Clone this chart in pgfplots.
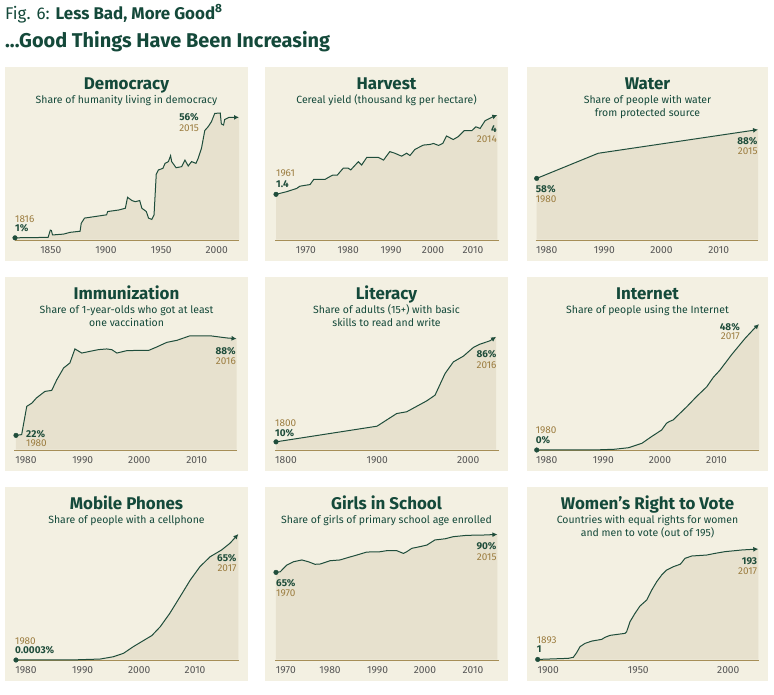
\documentclass[border=0pt]{standalone}
\usepackage{fontspec}
\setmainfont{Fira Sans}
\usepackage{pgfplots}
\usepackage{pgfplotstable}
\pgfplotsset{compat=1.18}
\usetikzlibrary{arrows.meta}

\definecolor{bgc}{HTML}{F3F0E2}
\definecolor{fillc}{HTML}{E7E1CE}
\definecolor{linec}{HTML}{1F4D3B}
\definecolor{goldc}{HTML}{9C7D40}
\definecolor{basec}{HTML}{A68E57}
\definecolor{titlec}{HTML}{14493A}
\definecolor{tickc}{HTML}{555555}

\newcommand{\anno}{\fontsize{10}{12}\selectfont}
\newcommand{\ttlfont}{\fontsize{17}{20}\selectfont\bfseries}
\newcommand{\subfont}{\fontsize{10.5}{13}\selectfont}

\pgfplotsset{
  panel/.style={
    scale only axis, anchor=south west, clip=false,
    axis y line=none, axis x line*=bottom,
    x axis line style={draw=basec, line width=1bp},
    ytick=\empty, major tick length=0pt,
    xticklabel style={font=\fontsize{10.3}{11}\selectfont, text=tickc, anchor=base, yshift=-13.3bp, inner sep=0pt},
  },
  area/.style={fill=fillc, draw=none},
  curve/.style={color=linec, line width=1bp, -{Latex[length=5bp,width=5bp]}},
  dot/.style={only marks, mark=*, mark size=2.3bp, color=linec, mark options={fill=linec, draw=linec}},
}
% close an area plot down to the baseline (just above the axis line)
\newcommand{\base}[3]{-- ([yshift=0.5bp]axis cs:#2,#3) -- ([yshift=0.5bp]axis cs:#1,#3) -- cycle}

\pgfplotstableread{
x y
1816 1
1846 1.2
1848 4.5
1849 4.3
1850 2.3
1860 2.7
1866 3.5
1875 4
1876 7.6
1879 10
1887 10.6
1899 11.5
1900 13
1910 13.7
1916 14.5
1918 19.5
1922 18
1925 17.5
1929 18
1931 14.5
1935 13
1937 10
1940 9.4
1942 11.4
1944 30
1946 32
1950 32.7
1952 35
1955 35.8
1957 38.5
1958 35.8
1962 33
1967 33.5
1970 36.5
1973 33.8
1976 35.8
1980 35
1982 37.3
1985 41.9
1988 50
1991 51.7
1994 54
1997 57.8
2002 58
2003 53
2005 52.5
2006 55
2010 56
2019 56
}\demdata

\pgfplotstableread{
x y
1961 1.40
1963.5 1.48
1965.9 1.58
1966.7 1.65
1969.1 1.70
1970 1.86
1972.7 1.86
1973.5 1.92
1974.5 1.99
1975.6 1.99
1977 2.20
1978.2 2.20
1978.8 2.15
1980.6 2.40
1981.4 2.30
1982.6 2.53
1985.4 2.53
1986.6 2.45
1988.1 2.71
1989.3 2.66
1990.9 2.57
1992.1 2.66
1992.9 2.59
1994.1 2.78
1996.1 2.91
1997.7 2.93
1998.5 2.96
1999.7 2.90
2000.7 2.96
2001.6 3.19
2003.2 3.08
2004.4 3.17
2005.8 3.35
2007.6 3.35
2008.6 3.47
2009.6 3.42
2010.8 3.66
2012.7 3.78
2013.7 3.83
}\harvdata

\pgfplotstableread{
x y
1980 58.5
1990 74.2
2016 89
}\waterdata

\pgfplotstableread{
x y
1980 22
1981 22.5
1981.9 41.8
1982.8 44
1983.6 47.5
1985.1 52
1986.3 52.7
1987.2 60
1988.4 68
1989.5 71.4
1990.4 81
1991.6 78.2
1993.1 79.4
1994.5 80.5
1996 81
1996.9 80.5
1997.8 78.2
1999.5 79.8
2001.3 80
2003.4 80
2004.8 82.3
2006.6 85.5
2008.4 86.9
2010.7 90
2014.2 90
2017.2 88.5
2018.9 88
}\immdata

\pgfplotstableread{
x y
1800 10
1899 21.5
1918.3 30.8
1928.1 32.1
1947.7 40.1
1955.9 44.3
1965.7 60.2
1973.9 68.8
1983.7 73
1993.5 79.4
2000 81.8
2009.8 84.3
2015.7 87.2
}\litdata

\pgfplotstableread{
x y
1980 0
1990 0.05
1993 0.3
1995.3 0.9
1997.5 2.6
1999.1 5.2
2000.8 7.8
2001.6 10.4
2002 11
2002.7 11.7
2005 16.9
2006.6 20.8
2008.3 24.6
2009.4 28.3
2010.5 31.1
2012.4 37
2014.7 43.5
2016.1 47
2017 49
}\intdata

\pgfplotstableread{
x y
1980 0
1990 0.1
1994 0.5
1996.2 1.7
1997.9 3.5
1999.5 6.9
2002.6 12.7
2004 17.3
2005.6 24.3
2007.3 32.9
2009 41.6
2010.6 48.5
2012.3 53.7
2014.2 57.2
2015.6 60.7
2017 65.5
}\mobdata

\pgfplotstableread{
x y
1970 65
1970.9 65.4
1972.3 69.9
1973.7 72.1
1975.5 73.3
1976.9 72.1
1978.3 70.4
1979.4 70.6
1981.5 72.8
1983.6 73.3
1985.4 75
1987.2 76.6
1989.3 78.6
1992.1 78.8
1993.5 79.5
1995.7 79.5
1997.1 77.7
1997.8 78.8
1998.9 81.1
2000.6 82.2
2002.1 83.3
2003.8 86.7
2006 87.5
2007.7 88.9
2010.6 89.8
2014.1 90
2017.1 90.4
}\girldata

\pgfplotstableread{
x y
1893 1
1910.2 2.9
1913 4.7
1914.9 12.8
1916.8 23.3
1919.6 29
1923.4 33
1929 36
1930.8 39.5
1933.7 43
1942.1 46.5
1943 49.4
1944.9 66.9
1947.7 81.4
1950.5 94.2
1954.3 104.7
1957.1 122
1959.9 136.6
1962.7 148.3
1965.5 157
1969.3 162.8
1973 166.9
1973.9 169.8
1975.8 177.3
1979.6 181.4
1988 183.1
1992.7 186
1998.3 189
2007.7 191.9
2017 193.6
}\womdata

\begin{document}
\begin{tikzpicture}
\fill[white] (0,0) rectangle (774bp,-695bp);

% panel backgrounds
\foreach \xa/\xb in {5/248, 265/508, 527/768}{
  \foreach \ya in {67, 277, 487}{
    \fill[bgc] (\xa bp,-\ya bp) rectangle (\xb bp,-\ya bp-194bp);
  }
}

% header
\node[anchor=base west, inner sep=0, text=titlec, font=\fontsize{17}{20}\selectfont] at (5bp,-19bp) {Fig. 6: \textbf{Less Bad, More Good}\textsuperscript{\textbf{8}}};
\node[anchor=base west, inner sep=0, text=titlec, font=\fontsize{20}{22}\selectfont\bfseries] at (5bp,-47.5bp) {...Good Things Have Been Increasing};

% titles row 1
\node[anchor=base, inner sep=0, text=titlec, font=\ttlfont] at (126.5bp,-89.5bp) {Democracy};
\node[anchor=base, inner sep=0, text=titlec, font=\subfont] at (126.5bp,-103bp) {Share of humanity living in democracy};
\node[anchor=base, inner sep=0, text=titlec, font=\ttlfont] at (386.5bp,-89.5bp) {Harvest};
\node[anchor=base, inner sep=0, text=titlec, font=\subfont] at (386.5bp,-103bp) {Cereal yield (thousand kg per hectare)};
\node[anchor=base, inner sep=0, text=titlec, font=\ttlfont] at (647.5bp,-89.5bp) {Water};
\node[anchor=base, inner sep=0, text=titlec, font=\subfont] at (647.5bp,-103bp) {Share of people with water};
\node[anchor=base, inner sep=0, text=titlec, font=\subfont] at (647.5bp,-116bp) {from protected source};
% row 2
\node[anchor=base, inner sep=0, text=titlec, font=\ttlfont] at (126.5bp,-299.5bp) {Immunization};
\node[anchor=base, inner sep=0, text=titlec, font=\subfont] at (126.5bp,-313bp) {Share of 1-year-olds who got at least};
\node[anchor=base, inner sep=0, text=titlec, font=\subfont] at (126.5bp,-326bp) {one vaccination};
\node[anchor=base, inner sep=0, text=titlec, font=\ttlfont] at (386.5bp,-299.5bp) {Literacy};
\node[anchor=base, inner sep=0, text=titlec, font=\subfont] at (386.5bp,-313bp) {Share of adults (15+) with basic};
\node[anchor=base, inner sep=0, text=titlec, font=\subfont] at (386.5bp,-326bp) {skills to read and write};
\node[anchor=base, inner sep=0, text=titlec, font=\ttlfont] at (647.5bp,-299.5bp) {Internet};
\node[anchor=base, inner sep=0, text=titlec, font=\subfont] at (647.5bp,-313bp) {Share of people using the Internet};
% row 3
\node[anchor=base, inner sep=0, text=titlec, font=\ttlfont] at (126.5bp,-509.5bp) {Mobile Phones};
\node[anchor=base, inner sep=0, text=titlec, font=\subfont] at (126.5bp,-523bp) {Share of people with a cellphone};
\node[anchor=base, inner sep=0, text=titlec, font=\ttlfont] at (386.5bp,-509.5bp) {Girls in School};
\node[anchor=base, inner sep=0, text=titlec, font=\subfont] at (386.5bp,-523bp) {Share of girls of primary school age enrolled};
\node[anchor=base, inner sep=0, text=titlec, font=\ttlfont] at (647.5bp,-509.5bp) {Women’s Right to Vote};
\node[anchor=base, inner sep=0, text=titlec, font=\subfont] at (647.5bp,-523bp) {Countries with equal rights for women};
\node[anchor=base, inner sep=0, text=titlec, font=\subfont] at (647.5bp,-536bp) {and men to vote (out of 195)};

% 1 Democracy
\begin{axis}[panel, at={(15bp,-240bp)}, width=224bp, height=131.4bp,
  xmin=1816, xmax=2019, ymin=0, ymax=60,
  xtick={1848.4,1898.5,1948.6,1998.8}, xticklabels={1850,1900,1950,2000}]
\addplot[area] table {\demdata} \base{1816}{2019}{0};
\addplot[curve] table {\demdata};
\addplot[dot] coordinates {(1816,1)};
\end{axis}

% 2 Harvest
\begin{axis}[panel, at={(275bp,-240bp)}, width=224bp, height=137bp,
  xmin=1960.76, xmax=2014.1, ymin=0, ymax=4.2,
  xtick={1968.1,1978.2,1988.4,1998.4,2007.9}, xticklabels={1970,1980,1990,2000,2010}]
\addplot[area] table {\harvdata} \base{1961}{2013.7}{0};
\addplot[curve] table {\harvdata};
\addplot[dot] coordinates {(1961,1.4)};
\end{axis}

% 3 Water
\begin{axis}[panel, at={(535.7bp,-240bp)}, width=222.6bp, height=128bp,
  xmin=1979.84, xmax=2016.04, ymin=20, ymax=100,
  xtick={1981.63,1991.0,2000.3,2009.6}, xticklabels={1980,1990,2000,2010}]
\addplot[area] table {\waterdata} \base{1980}{2016}{20};
\addplot[curve] table {\waterdata};
\addplot[dot] coordinates {(1980,58.5)};
\end{axis}

% 4 Immunization
\begin{axis}[panel, at={(14bp,-450bp)}, width=223.3bp, height=128.9bp,
  xmin=1979.65, xmax=2019.03, ymin=12, ymax=100,
  xtick={1981.77,1991.77,2001.75,2011.87}, xticklabels={1980,1990,2000,2010}]
\addplot[area] table {\immdata} \base{1980}{2018.9}{12};
\addplot[curve] table {\immdata};
\addplot[dot] coordinates {(1980,22)};
\end{axis}

% 5 Literacy
\begin{axis}[panel, at={(275bp,-450bp)}, width=224.3bp, height=130.6bp,
  xmin=1799.02, xmax=2018.9, ymin=4, ymax=100,
  xtick={1809.8,1899.3,1988.5}, xticklabels={1800,1900,2000}]
\addplot[area] table {\litdata} \base{1800}{2015.7}{4};
\addplot[curve] table {\litdata};
\addplot[dot] coordinates {(1800,10)};
\end{axis}

% 6 Internet
\begin{axis}[panel, at={(535.7bp,-450bp)}, width=223.3bp, height=133.6bp,
  xmin=1979.83, xmax=2017, ymin=0, ymax=52,
  xtick={1981.66,1991.08,2000.5,2009.93}, xticklabels={1980,1990,2000,2010}]
\addplot[area] table {\intdata} \base{1980}{2017}{0};
\addplot[curve] table {\intdata};
\addplot[dot] coordinates {(1980,0)};
\end{axis}

% 7 Mobile
\begin{axis}[panel, at={(14bp,-660bp)}, width=225.3bp, height=134.6bp,
  xmin=1979.67, xmax=2017.16, ymin=0, ymax=70,
  xtick={1981.67,1991.1,2000.5,2009.8}, xticklabels={1980,1990,2000,2010}]
\addplot[area] table {\mobdata} \base{1980}{2017}{0};
\addplot[curve] table {\mobdata};
\addplot[dot] coordinates {(1980,0)};
\end{axis}

% 8 Girls
\begin{axis}[panel, at={(275bp,-660bp)}, width=224.3bp, height=139.9bp,
  xmin=1969.79, xmax=2017.5, ymin=6.3, ymax=100,
  xtick={1972.1,1981.5,1991.6,2001.7,2011.9}, xticklabels={1970,1980,1990,2000,2010}]
\addplot[area] table {\girldata} \base{1970}{2017.1}{6.3};
\addplot[curve] table {\girldata};
\addplot[dot] coordinates {(1970,65)};
\end{axis}

% 9 Women
\begin{axis}[panel, at={(535.7bp,-660bp)}, width=223.3bp, height=129bp,
  xmin=1891.88, xmax=2017.4, ymin=0, ymax=225,
  xtick={1898.96,1949.55,2000.14}, xticklabels={1900,1950,2000}]
\addplot[area] table {\womdata} \base{1893}{2017}{0};
\addplot[curve] table {\womdata};
\addplot[dot] coordinates {(1893,1)};
\end{axis}

% annotations
\begin{scope}[every node/.style={inner sep=0, font=\anno}]
\node[anchor=base west, text=goldc] at (15bp,-222.5bp) {1816};
\node[anchor=base west, text=linec, font=\anno\bfseries] at (15bp,-231.5bp) {1\%};
\node[anchor=base east, text=linec, font=\anno\bfseries] at (199bp,-120.5bp) {56\%};
\node[anchor=base east, text=goldc] at (199bp,-131.5bp) {2015};

\node[anchor=base west, text=goldc] at (276bp,-176.7bp) {1961};
\node[anchor=base west, text=linec, font=\anno\bfseries] at (276bp,-187.3bp) {1.4};
\node[anchor=base east, text=linec, font=\anno\bfseries] at (497bp,-132.5bp) {4};
\node[anchor=base east, text=goldc] at (497bp,-142.5bp) {2014};

\node[anchor=base west, text=linec, font=\anno\bfseries] at (535.7bp,-192.5bp) {58\%};
\node[anchor=base west, text=goldc] at (535.7bp,-202.5bp) {1980};
\node[anchor=base east, text=linec, font=\anno\bfseries] at (757.7bp,-144.2bp) {88\%};
\node[anchor=base east, text=goldc] at (757.7bp,-154bp) {2015};

\node[anchor=base west, text=linec, font=\anno\bfseries] at (26bp,-437.5bp) {22\%};
\node[anchor=base west, text=goldc] at (26bp,-446.7bp) {1980};
\node[anchor=base east, text=linec, font=\anno\bfseries] at (236bp,-354bp) {88\%};
\node[anchor=base east, text=goldc] at (236bp,-364bp) {2016};

\node[anchor=base west, text=goldc] at (275bp,-426bp) {1800};
\node[anchor=base west, text=linec, font=\anno\bfseries] at (275bp,-436.7bp) {10\%};
\node[anchor=base east, text=linec, font=\anno\bfseries] at (496.7bp,-357.3bp) {86\%};
\node[anchor=base east, text=goldc] at (496.7bp,-368.3bp) {2016};

\node[anchor=base west, text=goldc] at (535.7bp,-433.5bp) {1980};
\node[anchor=base west, text=linec, font=\anno\bfseries] at (535.7bp,-443bp) {0\%};
\node[anchor=base east, text=linec, font=\anno\bfseries] at (740bp,-330bp) {48\%};
\node[anchor=base east, text=goldc] at (740bp,-339bp) {2017};

\node[anchor=base west, text=goldc] at (15bp,-644bp) {1980};
\node[anchor=base west, text=linec, font=\anno\bfseries] at (15bp,-653.3bp) {0.0003\%};
\node[anchor=base east, text=linec, font=\anno\bfseries] at (236.7bp,-561bp) {65\%};
\node[anchor=base east, text=goldc] at (236.7bp,-571.7bp) {2017};

\node[anchor=base west, text=linec, font=\anno\bfseries] at (276bp,-586bp) {65\%};
\node[anchor=base west, text=goldc] at (276bp,-596.7bp) {1970};
\node[anchor=base east, text=linec, font=\anno\bfseries] at (496.7bp,-549.3bp) {90\%};
\node[anchor=base east, text=goldc] at (496.7bp,-560bp) {2015};

\node[anchor=base west, text=goldc] at (536.7bp,-643.3bp) {1893};
\node[anchor=base west, text=linec, font=\anno\bfseries] at (536.7bp,-652.7bp) {1};
\node[anchor=base east, text=linec, font=\anno\bfseries] at (757.3bp,-564bp) {193};
\node[anchor=base east, text=goldc] at (757.3bp,-574bp) {2017};
\end{scope}
\pgfresetboundingbox
\path[use as bounding box] (0,0) rectangle (774bp,-695bp);
\end{tikzpicture}
\end{document}
